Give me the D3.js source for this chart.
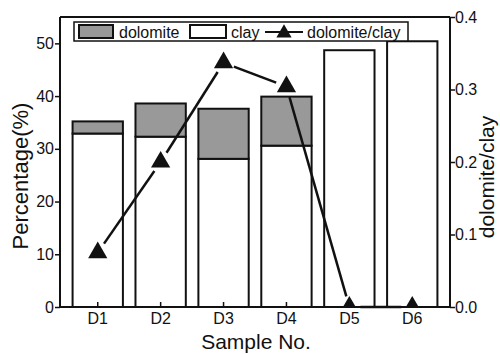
<!DOCTYPE html>
<html>
<head>
<meta charset="utf-8">
<script src="https://cdn.jsdelivr.net/npm/d3@7"></script>
<style>
  body { margin: 0; background: #fff; }
  svg text { font-family: "Liberation Sans", Arial, sans-serif; fill: #111; }
</style>
</head>
<body>
<div id="chart"></div>
<script>
const samples = ["D1", "D2", "D3", "D4", "D5", "D6"];
const clay = [32.9, 32.3, 28.1, 30.6, 48.7, 50.4];
const dolomite = [2.3, 6.3, 9.5, 9.3, 0, 0];
const ratio = [0.075, 0.2, 0.337, 0.304, 0, 0];
const leftTicks = [0, 10, 20, 30, 40, 50];
const rightTicks = [0, 0.1, 0.2, 0.3, 0.4];

const W = 500, H = 354;
const margin = { top: 17, right: 50, bottom: 47, left: 60 };
const width = W - margin.left - margin.right;
const height = H - margin.top - margin.bottom;

const svg = d3.select("#chart").append("svg")
    .attr("width", W)
    .attr("height", H);

svg.append("defs").append("clipPath")
    .attr("id", "plot-clip")
    .append("rect")
    .attr("width", width)
    .attr("height", height);

const g = svg.append("g")
    .attr("transform", `translate(${margin.left},${margin.top})`);

const x = d3.scaleBand()
    .domain(samples)
    .range([0, width])
    .padding(0.2);

const y = d3.scaleLinear().domain([0, 55]).range([height, 0]);
const y2 = d3.scaleLinear().domain([0, 0.4]).range([height, 0]);

// bars: clay at bottom, dolomite stacked above
const rows = samples.map((s, i) => ({ s, clay: clay[i], dol: dolomite[i], r: ratio[i] }));

g.selectAll(".clay")
    .data(rows)
    .enter().append("rect")
    .attr("x", d => x(d.s))
    .attr("width", x.bandwidth())
    .attr("y", d => y(d.clay))
    .attr("height", d => height - y(d.clay))
    .attr("fill", "#fff")
    .attr("stroke", "#111")
    .attr("stroke-width", 2);

g.selectAll(".dol")
    .data(rows.filter(d => d.dol > 0))
    .enter().append("rect")
    .attr("x", d => x(d.s))
    .attr("width", x.bandwidth())
    .attr("y", d => y(d.clay + d.dol))
    .attr("height", d => y(d.clay) - y(d.clay + d.dol))
    .attr("fill", "#999")
    .attr("stroke", "#111")
    .attr("stroke-width", 2);

// ratio line, with a gap round each marker
const pts = rows.map(d => [x(d.s) + x.bandwidth() / 2, y2(d.r)]);
const gap = 11;
for (let i = 0; i < pts.length - 1; i++) {
    const [x1, y1] = pts[i], [x2, yy2] = pts[i + 1];
    const len = Math.hypot(x2 - x1, yy2 - y1);
    const ux = (x2 - x1) / len, uy = (yy2 - y1) / len;
    g.append("line")
        .attr("x1", x1 + ux * gap).attr("y1", y1 + uy * gap)
        .attr("x2", x2 - ux * gap).attr("y2", yy2 - uy * gap)
        .attr("stroke", "#111")
        .attr("stroke-width", 2.5);
}

const tri = d3.symbol().type(d3.symbolTriangle).size(160);
g.append("g")
    .attr("clip-path", "url(#plot-clip)")
    .selectAll(".tri")
    .data(pts)
    .enter().append("path")
    .attr("d", tri)
    .attr("transform", d => `translate(${d[0]},${d[1]})`)
    .attr("fill", "#111");

// axes
const left = g.append("g")
    .call(d3.axisLeft(y).tickValues(leftTicks).tickSize(5).tickPadding(1));
const right = g.append("g")
    .attr("transform", `translate(${width},0)`)
    .call(d3.axisRight(y2).tickValues(rightTicks).tickSize(5).tickPadding(0).tickFormat(d3.format(".1f")));
const bottom = g.append("g")
    .attr("transform", `translate(0,${height})`)
    .call(d3.axisBottom(x).tickSize(-5).tickPadding(6));

[left, right, bottom].forEach(a => {
    a.selectAll("text").style("font-size", "16px").attr("fill", "#111");
    a.selectAll("line").attr("stroke", "#111").attr("stroke-width", 1.5);
    a.select(".domain").attr("stroke", "#111").attr("stroke-width", 2);
});
right.select(".domain").attr("d", `M0,0V${height}`);
left.select(".domain").attr("d", `M0,0V${height}`);
bottom.select(".domain").attr("d", `M0,0H${width}`);

// top frame line
g.append("line")
    .attr("x1", 0).attr("x2", width)
    .attr("y1", 0).attr("y2", 0)
    .attr("stroke", "#111")
    .attr("stroke-width", 2);

// axis titles
svg.append("text")
    .attr("transform", "translate(28,176) rotate(-90)")
    .attr("text-anchor", "middle")
    .style("font-size", "22px")
    .text("Percentage(%)");
svg.append("text")
    .attr("transform", "translate(494,177) rotate(-90)")
    .attr("text-anchor", "middle")
    .style("font-size", "21px")
    .text("dolomite/clay");
svg.append("text")
    .attr("x", 256)
    .attr("y", 349)
    .attr("text-anchor", "middle")
    .style("font-size", "21px")
    .text("Sample No.");

// legend
const lg = svg.append("g");
lg.append("rect")
    .attr("x", 74).attr("y", 22)
    .attr("width", 334).attr("height", 19)
    .attr("fill", "#fff")
    .attr("stroke", "#111")
    .attr("stroke-width", 1.5);
lg.append("rect")
    .attr("x", 79).attr("y", 25)
    .attr("width", 34).attr("height", 13)
    .attr("fill", "#999")
    .attr("stroke", "#111")
    .attr("stroke-width", 2);
lg.append("text").attr("x", 119).attr("y", 38).style("font-size", "16px").text("dolomite");
lg.append("rect")
    .attr("x", 190).attr("y", 25)
    .attr("width", 36).attr("height", 13)
    .attr("fill", "#fff")
    .attr("stroke", "#111")
    .attr("stroke-width", 2);
lg.append("text").attr("x", 231).attr("y", 38).style("font-size", "16px").text("clay");
lg.append("line")
    .attr("x1", 265).attr("x2", 303)
    .attr("y1", 32).attr("y2", 32)
    .attr("stroke", "#111")
    .attr("stroke-width", 2);
lg.append("path")
    .attr("d", d3.symbol().type(d3.symbolTriangle).size(100))
    .attr("transform", "translate(284,33)")
    .attr("fill", "#111");
lg.append("text").attr("x", 307).attr("y", 38).style("font-size", "16px").text("dolomite/clay");
</script>
</body>
</html>
